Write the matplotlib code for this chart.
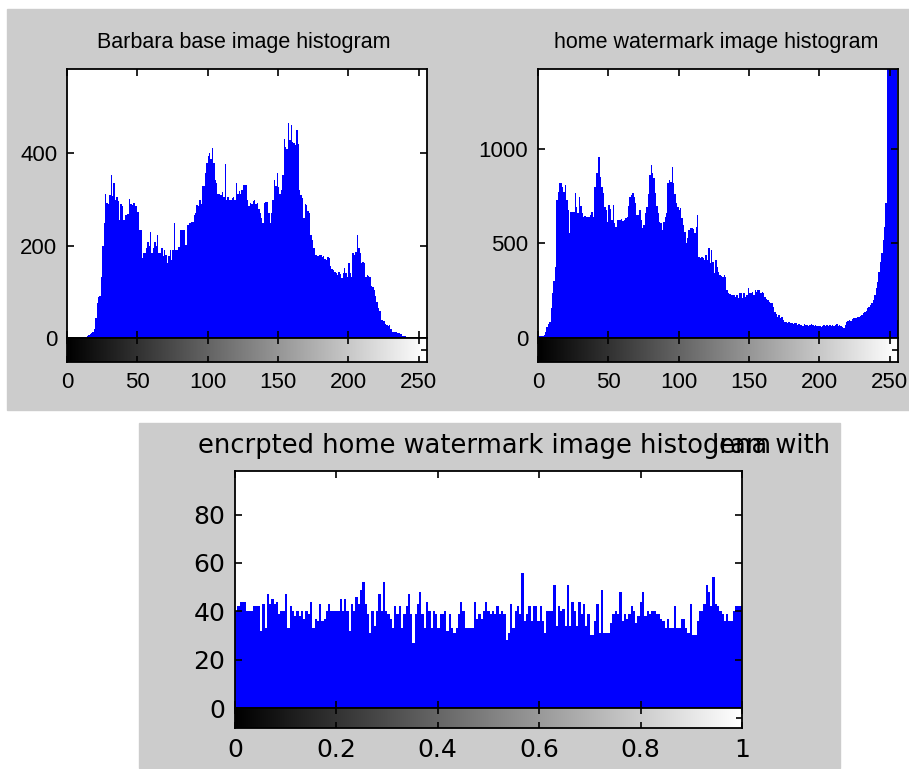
import matplotlib.pyplot as plt
import numpy as np
from matplotlib.patches import Rectangle

# histogram counts (one value per grey level)
barbara = [0, 0, 0, 0, 0, 0, 0, 0, 0, 0,
           0, 2, 3, 3, 5, 6, 8, 10, 12, 20,
           43, 76, 89, 90, 133, 200, 250, 313, 292, 290,
           310, 353, 307, 335, 300, 305, 298, 255, 290, 285,
           255, 266, 266, 268, 301, 290, 288, 292, 285, 287,
           272, 234, 234, 173, 184, 184, 195, 208, 200, 230,
           184, 196, 208, 200, 223, 184, 184, 195, 177, 191,
           180, 162, 177, 191, 170, 191, 249, 191, 191, 198,
           234, 234, 234, 234, 202, 245, 245, 249, 252, 252,
           266, 270, 288, 285, 299, 290, 330, 330, 357, 379,
           395, 400, 388, 411, 380, 342, 335, 313, 313, 310,
           317, 305, 378, 299, 305, 299, 299, 304, 306, 300,
           335, 313, 318, 313, 320, 331, 331, 331, 300, 285,
           292, 290, 296, 299, 290, 292, 280, 270, 260, 249,
           292, 295, 295, 270, 249, 270, 299, 342, 330, 357,
           328, 313, 320, 353, 432, 414, 410, 465, 430, 461,
           425, 422, 418, 450, 420, 321, 310, 303, 259, 290,
           288, 275, 270, 223, 213, 195, 180, 180, 178, 180,
           180, 175, 177, 172, 169, 176, 173, 155, 150, 147,
           144, 140, 137, 144, 138, 130, 140, 151, 140, 133,
           162, 140, 133, 184, 180, 187, 223, 195, 184, 162,
           165, 162, 133, 137, 135, 133, 112, 110, 105, 90,
           79, 65, 58, 40, 38, 36, 30, 29, 25, 29,
           20, 14, 14, 14, 12, 11, 11, 8, 4, 4,
           4, 3, 2, 1, 0, 0, 0, 0, 0, 0,
           0, 0, 0, 0, 0, 0]

watermark = [10, 10, 10, 12, 15, 30, 60, 75, 86, 157,
             236, 300, 377, 730, 774, 818, 818, 800, 774, 810,
             730, 677, 554, 668, 668, 668, 765, 695, 660, 748,
             700, 660, 642, 645, 640, 642, 642, 650, 668, 642,
             800, 871, 871, 959, 854, 800, 765, 695, 677, 615,
             704, 680, 624, 704, 607, 589, 624, 624, 624, 630,
             620, 624, 633, 642, 700, 748, 757, 765, 748, 713,
             651, 651, 677, 624, 580, 598, 660, 695, 760, 862,
             915, 871, 845, 765, 700, 660, 615, 607, 571, 615,
             640, 660, 818, 836, 827, 907, 818, 760, 713, 695,
             677, 686, 633, 600, 563, 501, 527, 571, 580, 580,
             575, 554, 589, 651, 430, 421, 430, 425, 413, 439,
             413, 474, 395, 466, 400, 342, 413, 377, 351, 333,
             330, 325, 333, 325, 254, 236, 232, 228, 228, 228,
             219, 228, 210, 236, 236, 210, 236, 219, 228, 263,
             240, 236, 245, 228, 254, 245, 254, 254, 236, 245,
             236, 215, 205, 201, 192, 183, 183, 166, 139, 125,
             113, 122, 104, 113, 95, 86, 86, 80, 82, 78,
             80, 76, 80, 78, 70, 72, 68, 70, 66, 72,
             68, 70, 65, 70, 72, 68, 66, 70, 64, 62,
             66, 60, 62, 68, 66, 70, 66, 68, 64, 70,
             66, 68, 72, 66, 70, 64, 60, 51, 69, 86,
             90, 95, 92, 100, 104, 104, 108, 113, 113, 118,
             122, 130, 139, 145, 157, 166, 175, 183, 201, 228,
             263, 298, 351, 400, 448, 520, 589, 712, 2500, 2500,
             2500, 2500, 2500, 2500, 2500, 95]

encrypted = [40, 42, 44, 44, 44, 40, 40, 40, 42, 42,
             42, 32, 43, 33, 47, 43, 45, 43, 44, 39,
             40, 40, 47, 33, 42, 40, 38, 40, 38, 40,
             37, 40, 39, 44, 33, 37, 36, 43, 36, 37,
             40, 43, 40, 40, 40, 40, 45, 40, 45, 40,
             32, 43, 40, 46, 43, 49, 52, 43, 39, 31,
             40, 34, 40, 47, 40, 52, 40, 39, 37, 33,
             42, 39, 42, 33, 39, 42, 47, 39, 27, 39,
             43, 48, 39, 33, 44, 40, 33, 40, 39, 33,
             39, 39, 40, 32, 39, 33, 31, 33, 39, 44,
             40, 33, 33, 33, 33, 44, 37, 39, 37, 40,
             44, 40, 39, 40, 39, 42, 39, 40, 39, 28,
             31, 43, 33, 40, 42, 39, 56, 36, 39, 42,
             36, 42, 42, 36, 42, 36, 31, 40, 40, 40,
             51, 34, 42, 40, 41, 34, 51, 34, 44, 40,
             34, 44, 39, 43, 34, 39, 30, 30, 36, 43,
             31, 49, 31, 31, 31, 35, 39, 40, 39, 48,
             36, 39, 37, 39, 42, 40, 35, 38, 44, 48,
             38, 40, 39, 40, 40, 39, 39, 37, 36, 33,
             37, 33, 33, 42, 33, 33, 37, 37, 33, 31,
             43, 30, 30, 36, 40, 40, 43, 51, 48, 42,
             54, 43, 42, 40, 39, 36, 39, 36, 36, 40,
             42, 42, 42]

level_ticks = [0, 50, 100, 150, 200, 250]
unit_ticks = [0, 0.2, 0.4, 0.6, 0.8, 1]
unit_labels = ['0', '0.2', '0.4', '0.6', '0.8', '1']

W, H = 909, 769
TOP_FONT = ['Liberation Sans Narrow', 'Liberation Sans']
BOT_FONT = ['DejaVu Sans']


def box(x0, y0, x1, y1):
    return [x0 / W, 1 - y1 / H, (x1 - x0) / W, (y1 - y0) / H]


def panel(hist_px, bar_px, counts, x_range, ymax, yticks, xticks, xlabels, font, size):
    edges = np.linspace(x_range[0], x_range[1], len(counts) + 1)
    ax = fig.add_axes(box(*hist_px))
    ax.stairs(counts, edges, fill=True, color='#0000ff')
    ax.set_xlim(*x_range)
    ax.set_ylim(0, ymax)
    ax.set_xticks(xticks)
    ax.set_xticklabels([])
    ax.set_yticks(yticks, [str(t) for t in yticks], family=font, fontsize=size)
    ax.tick_params(direction='in', top=True, right=True, length=5, width=1.2, pad=7)
    for sp in ax.spines.values():
        sp.set_linewidth(1.3)

    cb = fig.add_axes(box(*bar_px))
    cb.imshow(np.linspace(0, 1, 256)[None, :], cmap='gray', aspect='auto',
              extent=[x_range[0], x_range[1], 0, 1])
    cb.set_xlim(*x_range)
    cb.set_ylim(0, 1)
    cb.set_xticks(xticks, xlabels, family=font, fontsize=size)
    cb.set_yticks([0.5])
    cb.set_yticklabels([])
    cb.tick_params(direction='in', top=True, bottom=True, left=False, right=True,
                   length=4, width=1.2, pad=7)
    for sp in cb.spines.values():
        sp.set_linewidth(1.3)
    return ax


fig = plt.figure(figsize=(9.09, 7.69), dpi=100)

# grey window backgrounds
fig.add_artist(Rectangle((7 / W, 1 - 410 / H), (909 - 7) / W, (410 - 9) / H,
                         transform=fig.transFigure, color='#cccccc', zorder=-5))
fig.add_artist(Rectangle((139 / W, 1 - 768 / H), (840 - 139) / W, (768 - 423) / H,
                         transform=fig.transFigure, color='#cccccc', zorder=-5))

panel((67, 69, 427, 338), (67, 338, 427, 362), barbara, (0, 256), 583,
      [0, 200, 400], level_ticks, [str(t) for t in level_ticks], TOP_FONT, 16)
panel((538, 69, 898, 338), (538, 338, 898, 362), watermark, (0, 256), 1423,
      [0, 500, 1000], level_ticks, [str(t) for t in level_ticks], TOP_FONT, 16)
panel((235, 471, 742, 708), (235, 708, 742, 728), encrypted, (0, 1), 98,
      [0, 20, 40, 60, 80], unit_ticks, unit_labels, BOT_FONT, 18)

fig.text(244 / W, 1 - 48 / H, 'Barbara base image histogram', ha='center',
         va='baseline', family=TOP_FONT, fontsize=15.5)
fig.text(716 / W, 1 - 48 / H, 'home watermark image histogram', ha='center',
         va='baseline', family=TOP_FONT, fontsize=15.5)
# the reference title overprints a second string on the end of the first one
fig.text(198 / W, 1 - 453 / H, 'encrpted home watermark image histogram', ha='left',
         va='baseline', family=BOT_FONT, fontsize=18.5)
fig.text(712 / W, 1 - 453 / H, 'lena with', ha='left',
         va='baseline', family=BOT_FONT, fontsize=18.5)

fig.savefig('out.png', dpi=100)
